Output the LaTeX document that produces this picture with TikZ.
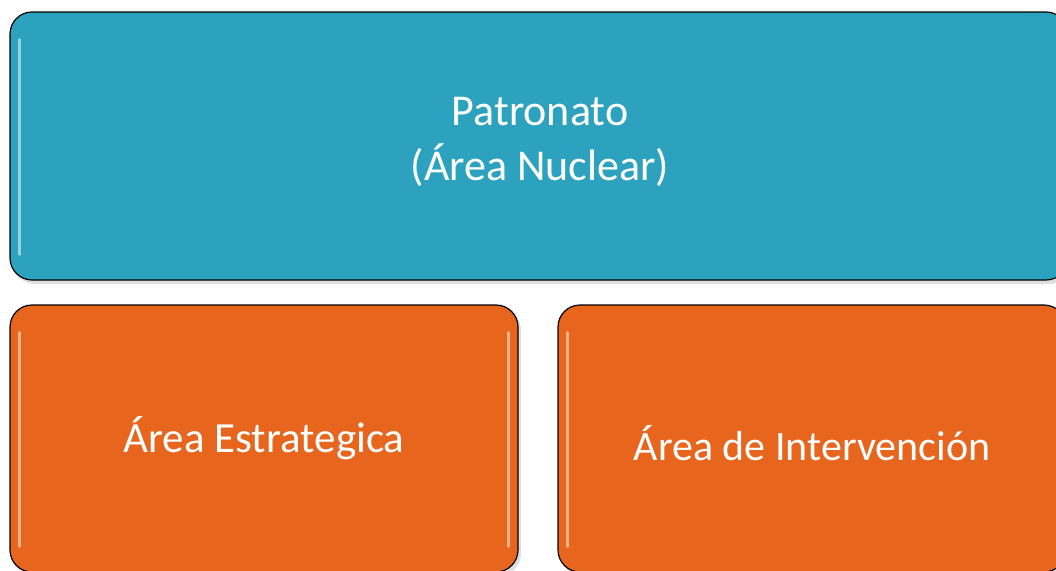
\documentclass[tikz,border=0pt]{standalone}
\usepackage{fontspec}
\setmainfont{Carlito}
\definecolor{tealbox}{HTML}{2DA2BF}
\definecolor{orangebox}{HTML}{E8651E}
\tikzset{
  boxstyle/.style={draw=black, line width=1.2pt, rounded corners=22pt, inner sep=0pt,
    minimum width=#1},
  shadowbox/.style={fill=black!35, opacity=0.35, rounded corners=22pt, draw=none},
  gloss/.style={draw=white, opacity=0.5, line width=2.5pt, line cap=round},
  labeltext/.style={text=white, anchor=base, inner sep=0pt}
}
\begin{document}
\begin{tikzpicture}[x=1pt,y=-1pt]
\useasboundingbox (0,0) rectangle (1056,570);
\fill[white] (0,0) rectangle (1056,570);
% shadows
\fill[shadowbox] (13,15) rectangle (1071,284);
\fill[shadowbox] (13,308) rectangle (521,576);
\fill[shadowbox] (561,308) rectangle (1069,576);
% boxes
\node[boxstyle=1058pt, minimum height=268pt, fill=tealbox] (top) at (539,146) {};
\node[boxstyle=508pt, minimum height=267pt, fill=orangebox] (left) at (264,438.5) {};
\node[boxstyle=508pt, minimum height=267pt, fill=orangebox] (right) at (812,438.5) {};
% gloss highlights
\draw[gloss] ([shift={(10,28)}]top.north west) -- ([shift={(10,-26)}]top.south west);
\draw[gloss] ([shift={(10,28)}]left.north west) -- ([shift={(10,-26)}]left.south west);
\draw[gloss] ([shift={(10,28)}]right.north west) -- ([shift={(10,-26)}]right.south west);
\draw[gloss] ([shift={(-10,28)}]left.north east) -- ([shift={(-10,-26)}]left.south east);
% texts
\node[labeltext, font=\fontsize{44}{50}\selectfont] (t1) at (540,125) {Patronato};
\node[labeltext, font=\fontsize{44}{50}\selectfont] (t2) at (540,180) {(Área Nuclear)};
\node[labeltext, font=\fontsize{43}{50}\selectfont] (t3) at (264,452) {Área Estrategica};
\node[labeltext, font=\fontsize{42}{50}\selectfont] (t4) at (812,460) {Área de Intervención};
\end{tikzpicture}
\end{document}
